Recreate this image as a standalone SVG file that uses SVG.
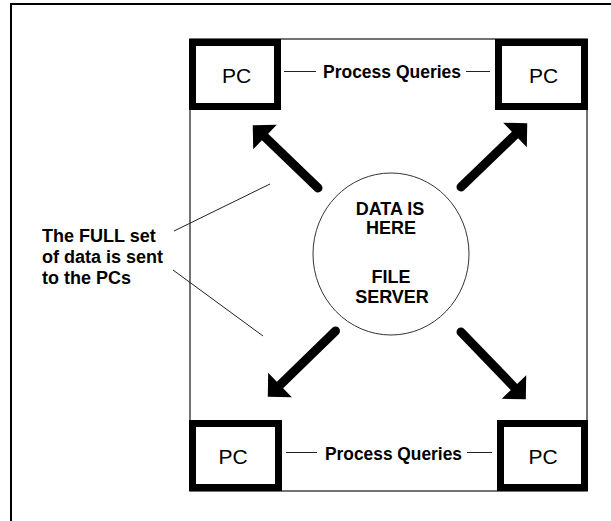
<svg xmlns="http://www.w3.org/2000/svg" width="611" height="521" viewBox="0 0 611 521">
<style>
.pc{fill:#fff;stroke:#000;stroke-width:7}
.pct{font-family:"Liberation Sans",Arial,sans-serif;font-size:21px;fill:#000;text-anchor:middle}
.lbl{font-family:"Liberation Sans",Arial,sans-serif;font-size:18px;font-weight:bold;fill:#000}
.thin{stroke:#222;stroke-width:1;fill:none}
.arrow{stroke:#000;stroke-width:9;stroke-linecap:round;fill:none;marker-end:url(#head)}
</style>
<defs>
<marker id="head" markerUnits="userSpaceOnUse" markerWidth="36" markerHeight="36" refX="0" refY="17" orient="auto" overflow="visible">
<path d="M0,0 L17,17 L0,34 Z" fill="#000"/>
</marker>
</defs>
<rect x="0" y="0" width="611" height="521" fill="#fff"/>
<rect id="frame" x="11" y="4" width="700" height="600" fill="none" stroke="#000" stroke-width="2"/>
<rect id="container" x="190" y="39" width="397" height="452" fill="none" stroke="#444" stroke-width="1.5"/>
<g id="connectors">
<line class="arrow" x1="318" y1="188" x2="265" y2="137"/>
<line class="arrow" x1="461" y1="187" x2="515" y2="135"/>
<line class="arrow" x1="335.5" y1="331" x2="280" y2="385"/>
<line class="arrow" x1="461" y1="332" x2="514" y2="387"/>
<line class="thin" x1="284" y1="71.5" x2="316" y2="71.5"/>
<line class="thin" x1="466" y1="71.5" x2="490" y2="71.5"/>
<text class="lbl" x="392" y="78" text-anchor="middle" textLength="138" lengthAdjust="spacingAndGlyphs">Process Queries</text>
<line class="thin" x1="286" y1="452.5" x2="317" y2="452.5"/>
<line class="thin" x1="467" y1="452.5" x2="492" y2="452.5"/>
<text class="lbl" x="393.5" y="460" text-anchor="middle" textLength="137" lengthAdjust="spacingAndGlyphs">Process Queries</text>
<line class="thin" x1="174" y1="231" x2="270" y2="184"/>
<line class="thin" x1="173" y1="270" x2="263" y2="336"/>
</g>
<g id="pc-tl"><rect class="pc" x="192.5" y="42.5" width="85" height="64"/><text class="pct" x="236.5" y="82.5">PC</text></g>
<g id="pc-tr"><rect class="pc" x="498.5" y="42.5" width="86" height="64"/><text class="pct" x="543.5" y="82.5">PC</text></g>
<g id="pc-bl"><rect class="pc" x="192.5" y="423.5" width="86" height="64"/><text class="pct" x="233" y="464">PC</text></g>
<g id="pc-br"><rect class="pc" x="500.5" y="423.5" width="84" height="64"/><text class="pct" x="543" y="464">PC</text></g>
<g id="server">
<ellipse cx="391" cy="254" rx="78" ry="81" fill="#fff" stroke="#333" stroke-width="1"/>
<text class="lbl" text-anchor="middle"><tspan x="390" y="215">DATA IS</tspan><tspan x="391" y="234">HERE</tspan><tspan x="391" y="283">FILE</tspan><tspan x="392" y="303">SERVER</tspan></text>
</g>
<g id="note">
<text class="lbl"><tspan x="42" y="242">The FULL set</tspan><tspan x="42" y="263">of data is sent</tspan><tspan x="42" y="283.5">to the PCs</tspan></text>
</g>
</svg>
